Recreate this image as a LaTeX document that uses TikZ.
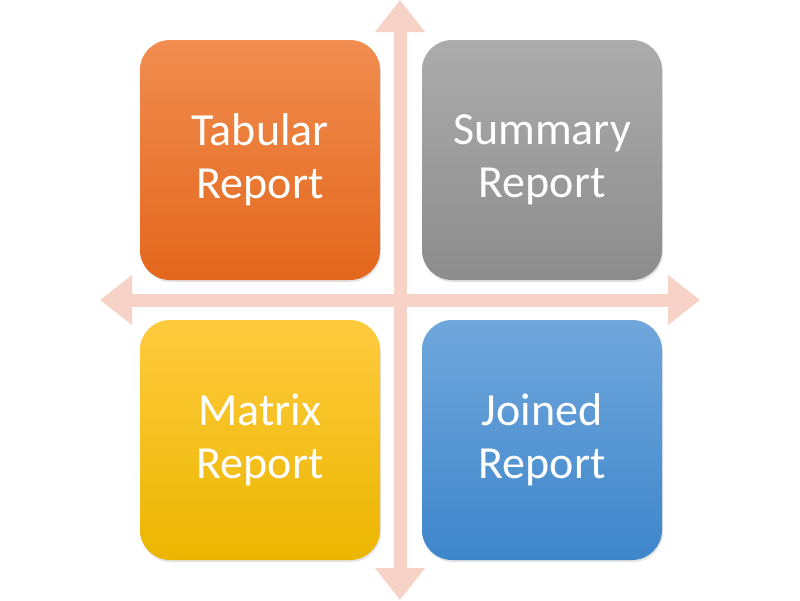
\documentclass[tikz,border=0pt]{standalone}
\usepackage{fontspec}
\setmainfont{Carlito}
\usetikzlibrary{arrows.meta,shadows}
\definecolor{arrowc}{HTML}{F7D3C7}
\definecolor{orT}{HTML}{F18D50}
\definecolor{orB}{HTML}{E3671C}
\definecolor{grT}{HTML}{ACACAC}
\definecolor{grB}{HTML}{8C8C8C}
\definecolor{yeT}{HTML}{FFCB3E}
\definecolor{yeB}{HTML}{EBB600}
\definecolor{blT}{HTML}{70A7DC}
\definecolor{blB}{HTML}{3E86CB}
\tikzset{
  card/.style={draw=none, rounded corners=30pt, minimum width=240pt, minimum height=240pt,
    inner sep=0pt, align=center, text=white, font=\fontsize{46}{53}\selectfont,
    drop shadow={opacity=0.22, shadow xshift=1pt, shadow yshift=-2pt}},
  bigarrow/.style={draw=arrowc, line width=13pt,
    {Triangle[width=48pt,length=32pt]}-{Triangle[width=48pt,length=32pt]}}
}
\begin{document}
\begin{tikzpicture}[x=1pt,y=-1pt]
\useasboundingbox (0,0) rectangle (800,600);
\coordinate (vt) at (400,0);
\coordinate (vb) at (400,600);
\coordinate (hl) at (100,300);
\coordinate (hr) at (700,300);
\draw[bigarrow] (vt) -- (vb);
\draw[bigarrow] (hl) -- (hr);
\node[card, top color=orT, bottom color=orB] (tab) at (260,160) {Tabular\\Report};
\node[card, top color=grT, bottom color=grB] (sum) at (542,160) {Summary\\Report};
\node[card, top color=yeT, bottom color=yeB] (mat) at (260,440) {Matrix\\Report};
\node[card, top color=blT, bottom color=blB] (joi) at (542,440) {Joined\\Report};
\end{tikzpicture}
\end{document}
